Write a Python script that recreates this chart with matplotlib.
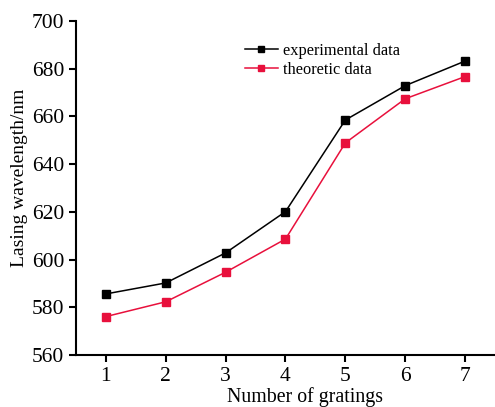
import matplotlib
matplotlib.use("Agg")
import matplotlib.pyplot as plt

plt.rcParams['font.family'] = ['Liberation Serif', 'DejaVu Serif']

gratings = [1, 2, 3, 4, 5, 6, 7]
experimental = [585.6, 590.2, 602.8, 620.1, 658.5, 672.9, 683.2]
theoretic = [576.1, 582.3, 594.7, 608.6, 648.9, 667.4, 676.7]

fig = plt.figure(figsize=(4.95, 4.07), dpi=100)
ax = fig.add_axes([0.1535, 0.1278, 0.8465, 0.8206])

ax.plot(gratings, experimental, color='black', lw=1.1, marker='s', ms=6,
        label='experimental data')
ax.plot(gratings, theoretic, color='#e8103c', lw=1.1, marker='s', ms=6,
        label='theoretic data')

ax.set_xlim(0.5, 7.5)
ax.set_ylim(560, 700)
ax.set_xticks(gratings)
ax.set_yticks(range(560, 701, 20))
ax.spines['top'].set_visible(False)
ax.spines['right'].set_visible(False)
ax.spines['left'].set_linewidth(1.5)
ax.spines['bottom'].set_linewidth(1.5)
ax.tick_params(direction='out', length=5, width=1.5, labelsize=15.5)

ax.set_xlabel('Number of gratings', fontsize=14.3)
ax.set_ylabel('Lasing wavelength/nm', fontsize=14)
ax.xaxis.set_label_coords(0.547, -0.095)
ax.yaxis.set_label_coords(-0.114, 0.53)

ax.legend(loc='upper left', bbox_to_anchor=(0.403, 0.934), frameon=False,
          fontsize=11.8, handlelength=2.0, handletextpad=0.3,
          labelspacing=0.15, borderaxespad=0, borderpad=0, markerscale=0.7)

fig.savefig('out.png', dpi=100)
